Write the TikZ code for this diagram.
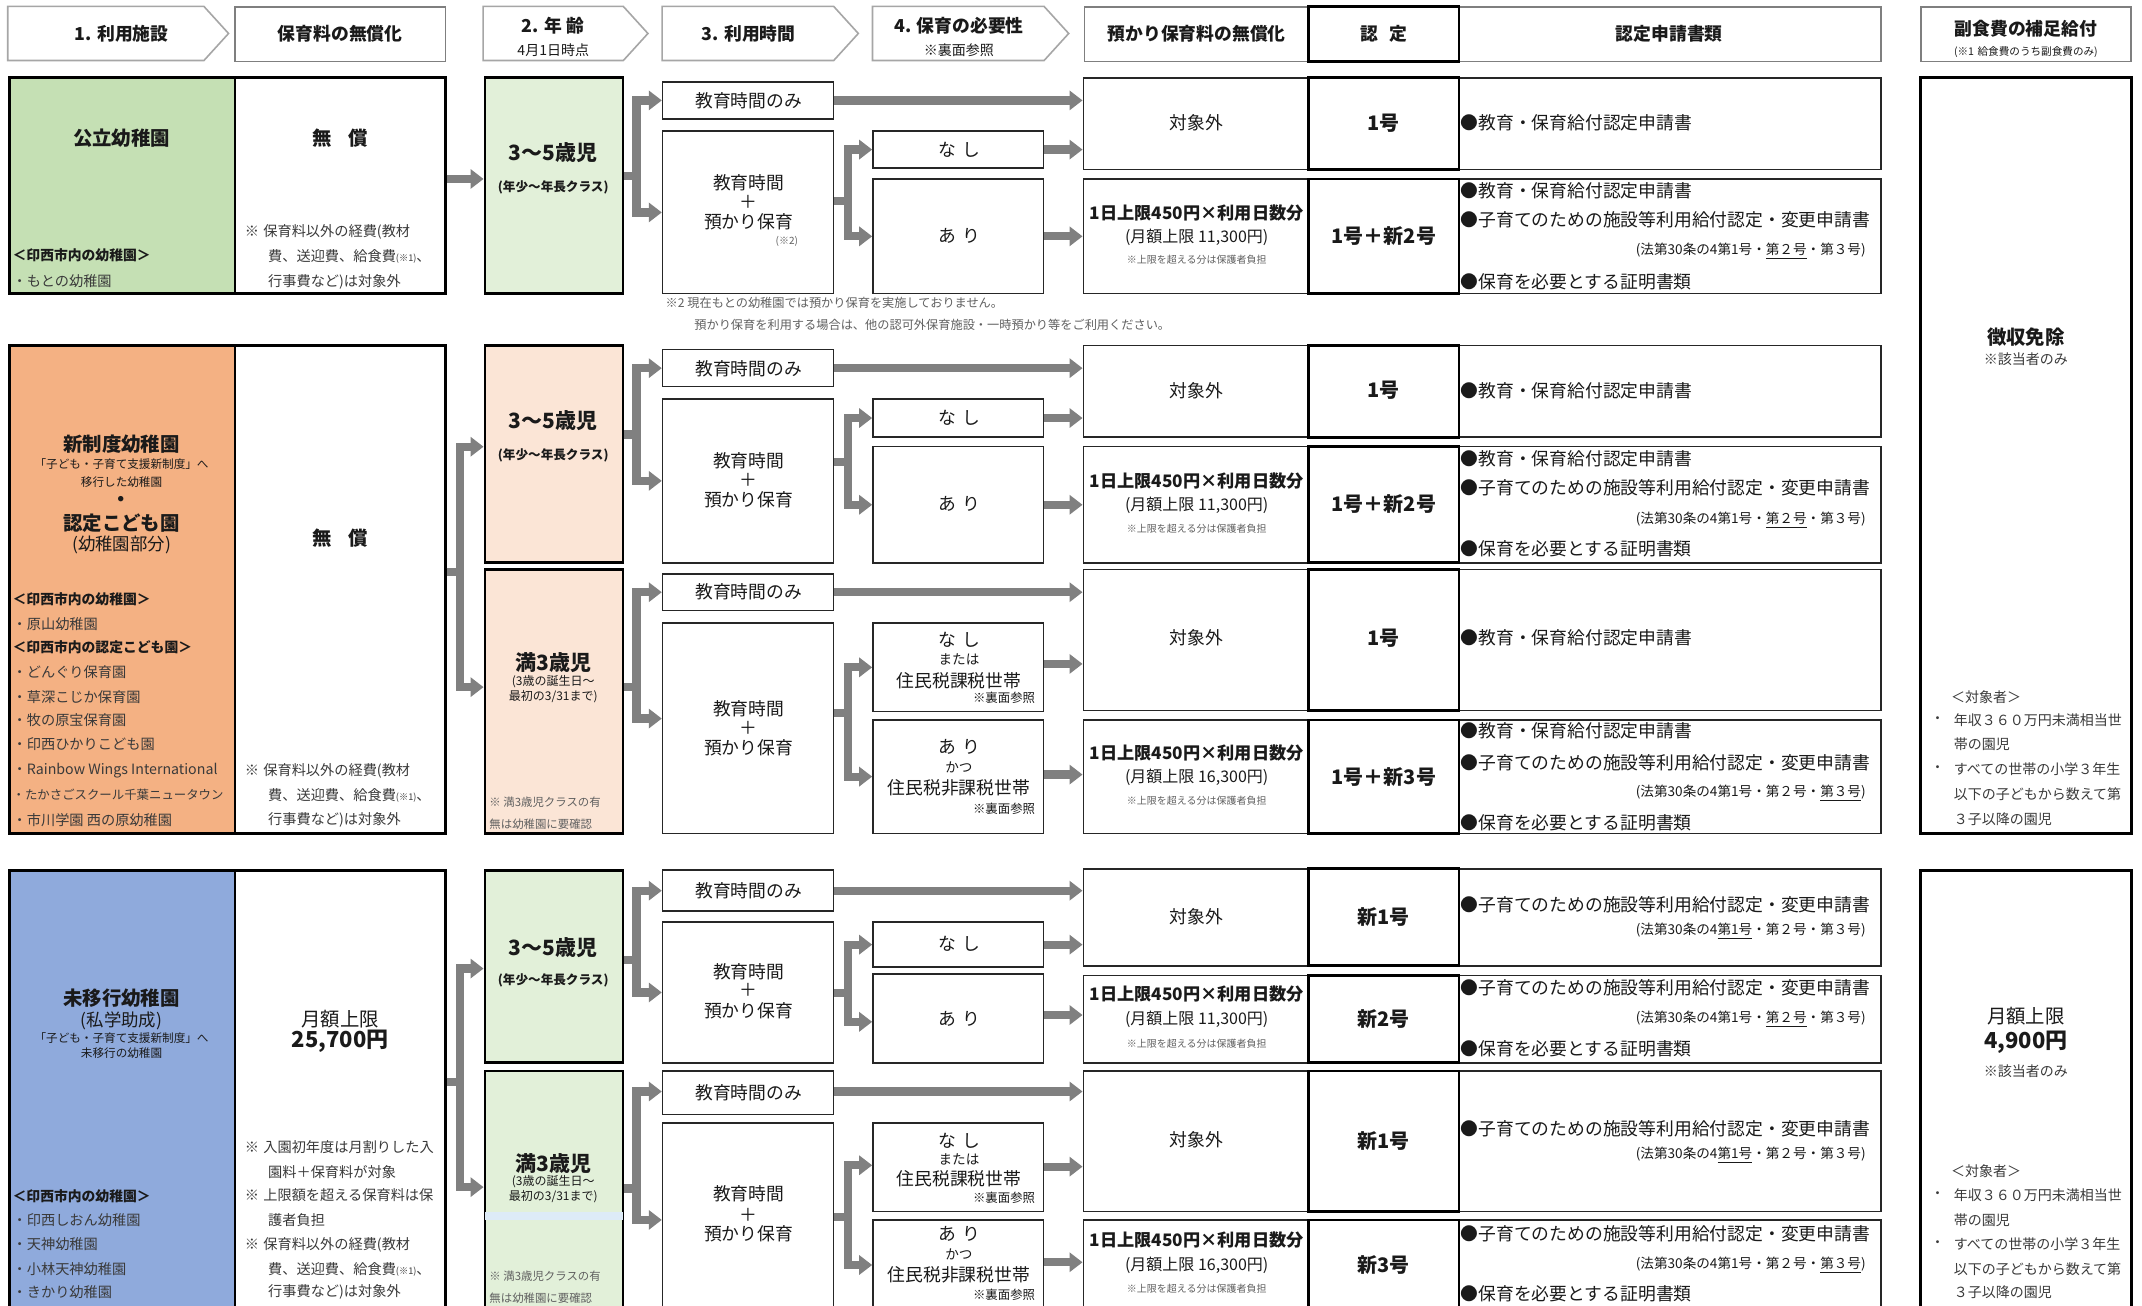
\documentclass[tikz,border=0pt]{standalone}
\usepackage{fontspec}
\setmainfont{Noto Sans CJK JP}
\usetikzlibrary{arrows.meta,fit}
\definecolor{facg}{HTML}{C5E0B4}
\definecolor{faco}{HTML}{F4B183}
\definecolor{facb}{HTML}{8FAADC}
\definecolor{ageg}{HTML}{E2F0D9}
\definecolor{agep}{HTML}{FBE5D6}
\definecolor{strip}{HTML}{DDEBF7}
\definecolor{arrowc}{HTML}{808080}
\definecolor{hdrl}{HTML}{A6A6A6}
\definecolor{hdrd}{HTML}{7F7F7F}
\definecolor{txtc}{HTML}{1A1A1A}
\definecolor{listc}{HTML}{3A3A3A}
\definecolor{notec}{HTML}{606060}
\newcounter{tn}
\newcommand\mt[3]{\stepcounter{tn}\edef\tnm{t\arabic{tn}}\node[#2] (\tnm) at (#1) {#3};}
\newcommand\bx[4]{\node[fit={(#2) (#3)}, inner sep=0pt, #4] (#1) {};}
\newcommand\hp[3]{\node[fit={(#2) (#3)}, inner sep=0pt] (#1) {};
  \draw[draw=hdrl, line width=0.8pt, line join=miter] (#1.north west) -- (#1.north east) -- ([xshift=12.3pt]#1.east) -- (#1.south east) -- (#1.south west) -- cycle;}
\tikzset{
  tx/.style={inner sep=0pt, text=txtc},
  fhead/.style={tx, font=\bfseries\fontsize{8.9}{10}\selectfont},
  fsm/.style={tx, font=\fontsize{7}{8}\selectfont},
  ftn/.style={tx, font=\fontsize{5.3}{6}\selectfont},
  fbig/.style={tx, font=\bfseries\fontsize{9.7}{11}\selectfont},
  fage/.style={tx, font=\bfseries\fontsize{10.5}{12}\selectfont},
  fagesub/.style={tx, font=\bfseries\fontsize{6.3}{7}\selectfont},
  fagesm/.style={tx, font=\fontsize{6}{7}\selectfont},
  fagenote/.style={tx, anchor=west, text=notec, font=\fontsize{5.7}{7}\selectfont},
  fnum/.style={tx, font=\bfseries\fontsize{10}{12}\selectfont},
  fmain/.style={tx, font=\fontsize{8.9}{10}\selectfont},
  fmainb/.style={tx, font=\bfseries\fontsize{8.6}{10}\selectfont},
  fmon/.style={tx, font=\fontsize{8}{9}\selectfont},
  fcap/.style={tx, text=notec, font=\fontsize{5}{6}\selectfont},
  fdoc/.style={tx, anchor=west, font=\fontsize{8.9}{10}\selectfont},
  flaw/.style={tx, anchor=east, font=\fontsize{6.8}{8}\selectfont},
  flist/.style={tx, anchor=west, text=listc, font=\fontsize{7.1}{8}\selectfont},
  flistb/.style={tx, anchor=west, font=\bfseries\fontsize{6.9}{8}\selectfont},
  fnote/.style={tx, anchor=west, text=listc, font=\fontsize{7.1}{8}\selectfont},
  fsub/.style={tx, font=\fontsize{5.8}{7}\selectfont},
  fparen/.style={tx, font=\fontsize{8.7}{10}\selectfont},
  fmid/.style={tx, font=\fontsize{6.8}{8}\selectfont},
  fref/.style={tx, anchor=east, font=\fontsize{6.2}{7}\selectfont},
  fside/.style={tx, anchor=west, text=listc, font=\fontsize{7}{8}\selectfont},
  fsidec/.style={tx, text=listc, font=\fontsize{7}{8}\selectfont},
  fbignum/.style={tx, font=\bfseries\fontsize{11}{12}\selectfont},
  fmidreg/.style={tx, font=\fontsize{9.7}{11}\selectfont},
  f2note/.style={tx, anchor=west, text=notec, font=\fontsize{6.1}{7}\selectfont},
  thick/.style={draw=black, line width=1.4pt},
  thin/.style={draw=black!85, line width=0.75pt},
  conn/.style={draw=arrowc, line width=4.1pt, line join=miter, -{Triangle[length=6.5pt,width=9.5pt]}}
}
\newcommand\law[1]{(法第30条の4#1)}
\begin{document}
\begin{tikzpicture}[x=0.683pt, y=-0.683pt]
\useasboundingbox (0,0) rectangle (1568,956);
\clip (0,0) rectangle (1568,956);
\fill[white] (0,0) rectangle (1568,956);
% ---------- header ----------
\hp{h1}{6,5}{149,44}
\mt{89,24.5}{fhead}{1. 利用施設}
\bx{h2}{172,5}{326,45}{draw=hdrd, line width=0.8pt}
\mt{249,25}{fhead}{保育料の無償化}
\hp{h3}{354,5}{456,44}
\mt{405,18.5}{fhead}{2. 年\hspace{0.25em}齢}
\mt{405,37}{fsm}{4月1日時点}
\hp{h4}{485,5}{610,44}
\mt{548,24.5}{fhead}{3. 利用時間}
\hp{h5}{639,5}{764,44}
\mt{702,18.5}{fhead}{4. 保育の必要性}
\mt{702,37}{fsm}{※裏面参照}
\bx{h6}{794,5}{958,45}{draw=hdrd, line width=0.8pt}
\mt{876,25}{fhead}{預かり保育料の無償化}
\bx{h8}{1068,5}{1377,45}{draw=hdrd, line width=0.8pt}
\bx{h7}{958,5}{1068,45}{thick}
\mt{1013,25}{fhead}{認\hspace{0.6em}定}
\mt{1222,25}{fhead}{認定申請書類}
\bx{h9}{1406,5}{1560,45}{draw=hdrd, line width=0.8pt}
\mt{1483,21}{fhead}{副食費の補足給付}
\mt{1483,38}{ftn}{(※1\,\,給食費のうち副食費のみ)}

% ---------- row 1 ----------
\bx{fac1}{7,57}{172,215}{thick, fill=facg}
\bx{fee1}{172,57}{326,215}{thick}
\bx{A1}{355,57}{456,215}{thick, fill=ageg}
\bx{T1a}{485,60}{610,87}{thin}
\bx{T1b}{485,96}{610,215}{thin}
\bx{N1a}{639,96}{764,123}{thin}
\bx{N1b}{639,131}{764,215}{thin}
\bx{R1a}{793,57}{958,124}{thin}
\bx{D1a}{1068,57}{1377,124}{thin}
\bx{C1a}{958,57}{1068,124}{thick}
\bx{R1b}{793,131}{958,215}{thin}
\bx{D1b}{1068,131}{1377,215}{thin}
\bx{C1b}{958,131}{1068,215}{thick}

\mt{89,101}{fbig}{公立幼稚園}
\mt{9,187}{flistb}{＜印西市内の幼稚園＞}
\mt{9,206}{flist}{・もとの幼稚園}
\mt{249,101}{fbig}{無\hspace{0.9em}償}
\mt{179,170}{fnote}{※\hspace{0.3em}保育料以外の経費(教材}
\mt{196,188}{fnote}{費、送迎費、給食費{\fontsize{4.6}{5}\selectfont(※1)}、}
\mt{196,206}{fnote}{行事費など)は対象外}
\mt{405,112}{fage}{3～5歳児}
\mt{405,137}{fagesub}{(年少～年長クラス)}
\mt{548,74}{fmain}{教育時間のみ}
\mt{548,134}{fmain}{教育時間}
\mt{548,148}{fmain}{＋}
\mt{548,162}{fmain}{預かり保育}
\mt{576,177}{fcap}{(※2)}
\mt{702,110}{fmain}{な\hspace{0.35em}し}
\mt{702,173}{fmain}{あ\hspace{0.35em}り}
\mt{876,90}{fmain}{対象外}
\mt{876,156}{fmainb}{1日上限450円×利用日数分}
\mt{876,174}{fmon}{(月額上限 11,300円)}
\mt{876,190}{fcap}{※上限を超える分は保護者負担}
\mt{1013,90}{fnum}{1号}
\mt{1013,173}{fnum}{1号＋新2号}
\mt{1069,90}{fdoc}{●教育・保育給付認定申請書}
\mt{1069,140}{fdoc}{●教育・保育給付認定申請書}
\mt{1069,161}{fdoc}{●子育てのための施設等利用給付認定・変更申請書}
\mt{1366,184}{flaw}{\law{第1号・\underline{第２号}・第３号}}
\mt{1069,206}{fdoc}{●保育を必要とする証明書類}
\mt{487,222}{f2note}{※2 現在もとの幼稚園では預かり保育を実施しておりません。}
\mt{508,238}{f2note}{預かり保育を利用する場合は、他の認可外保育施設・一時預かり等をご利用ください。}

\draw[conn] (fee1.east |- 0,131) -- (A1.west |- 0,131);
\draw[conn] (A1.east |- 0,129) -- (466,129) |- (T1a.west);
\draw[conn] (A1.east |- 0,129) -- (466,129) |- (T1b.west);
\draw[conn] (T1b.east |- 0,147) -- (621,147) |- (N1a.west);
\draw[conn] (T1b.east |- 0,147) -- (621,147) |- (N1b.west);
\draw[conn] (T1a.east) -- (T1a.east -| R1a.west);
\draw[conn] (N1a.east) -- (N1a.east -| R1a.west);
\draw[conn] (N1b.east) -- (N1b.east -| R1b.west);

% ---------- row 2 ----------
\bx{fac2}{7,253}{172,610}{thick, fill=faco}
\bx{fee2}{172,253}{326,610}{thick}
\bx{A2}{355,253}{456,412}{thick, fill=agep}
\bx{A3}{355,417}{456,610}{thick, fill=agep}
\bx{T2a}{485,256}{610,283}{thin}
\bx{T2b}{485,292}{610,412}{thin}
\bx{N2a}{639,292}{764,320}{thin}
\bx{N2b}{639,327}{764,412}{thin}
\bx{R2a}{793,253}{958,320}{thin}
\bx{D2a}{1068,253}{1377,320}{thin}
\bx{C2a}{958,253}{1068,320}{thick}
\bx{R2b}{793,327}{958,412}{thin}
\bx{D2b}{1068,327}{1377,412}{thin}
\bx{C2b}{958,327}{1068,412}{thick}
\bx{T3a}{485,420}{610,447}{thin}
\bx{T3b}{485,456}{610,610}{thin}
\bx{N3a}{639,456}{764,521}{thin}
\bx{N3b}{639,527}{764,610}{thin}
\bx{R3a}{793,417}{958,520}{thin}
\bx{D3a}{1068,417}{1377,520}{thin}
\bx{C3a}{958,417}{1068,520}{thick}
\bx{R3b}{793,527}{958,610}{thin}
\bx{D3b}{1068,527}{1377,610}{thin}
\bx{C3b}{958,527}{1068,610}{thick}

\mt{89,325}{fbig}{新制度幼稚園}
\mt{89,339.5}{fsub}{「子ども・子育て支援新制度」へ}
\mt{89,353}{fsub}{移行した幼稚園}
\mt{89,367}{fbig}{・}
\mt{89,383}{fbig}{認定こども園}
\mt{89,399}{fparen}{(幼稚園部分)}
\mt{9,439}{flistb}{＜印西市内の幼稚園＞}
\mt{9,457}{flist}{・原山幼稚園}
\mt{9,474}{flistb}{＜印西市内の認定こども園＞}
\mt{9,492}{flist}{・どんぐり保育園}
\mt{9,510}{flist}{・草深こじか保育園}
\mt{9,527}{flist}{・牧の原宝保育園}
\mt{9,545}{flist}{・印西ひかりこども園}
\mt{9,564}{flist}{・Rainbow Wings International}
\mt{9,582}{flist, font=\fontsize{6.2}{7}\selectfont}{・たかさごスクール千葉ニュータウン}
\mt{9,600}{flist}{・市川学園 西の原幼稚園}
\mt{249,394}{fbig}{無\hspace{0.9em}償}
\mt{179,564}{fnote}{※\hspace{0.3em}保育料以外の経費(教材}
\mt{196,582}{fnote}{費、送迎費、給食費{\fontsize{4.6}{5}\selectfont(※1)}、}
\mt{196,600}{fnote}{行事費など)は対象外}
\mt{405,308}{fage}{3～5歳児}
\mt{405,333}{fagesub}{(年少～年長クラス)}
\mt{405,485}{fage}{満3歳児}
\mt{405,499}{fagesm}{(3歳の誕生日～}
\mt{405,510}{fagesm}{最初の3/31まで)}
\mt{358,587}{fagenote}{※ 満3歳児クラスの有}
\mt{358,603}{fagenote}{無は幼稚園に要確認}
\mt{548,270}{fmain}{教育時間のみ}
\mt{548,337}{fmain}{教育時間}
\mt{548,351}{fmain}{＋}
\mt{548,366}{fmain}{預かり保育}
\mt{702,306}{fmain}{な\hspace{0.35em}し}
\mt{702,369}{fmain}{あ\hspace{0.35em}り}
\mt{876,286}{fmain}{対象外}
\mt{876,352}{fmainb}{1日上限450円×利用日数分}
\mt{876,370}{fmon}{(月額上限 11,300円)}
\mt{876,387}{fcap}{※上限を超える分は保護者負担}
\mt{1013,286}{fnum}{1号}
\mt{1013,369}{fnum}{1号＋新2号}
\mt{1069,286}{fdoc}{●教育・保育給付認定申請書}
\mt{1069,336}{fdoc}{●教育・保育給付認定申請書}
\mt{1069,357}{fdoc}{●子育てのための施設等利用給付認定・変更申請書}
\mt{1366,381}{flaw}{\law{第1号・\underline{第２号}・第３号}}
\mt{1069,402}{fdoc}{●保育を必要とする証明書類}
\mt{548,433}{fmain}{教育時間のみ}
\mt{548,519}{fmain}{教育時間}
\mt{548,533}{fmain}{＋}
\mt{548,547}{fmain}{預かり保育}
\mt{702,468}{fmain}{な\hspace{0.35em}し}
\mt{702,483}{fmid}{または}
\mt{702,498}{fmain}{住民税課税世帯}
\mt{758,511}{fref}{※裏面参照}
\mt{702,547}{fmain}{あ\hspace{0.35em}り}
\mt{702,562}{fmid}{かつ}
\mt{702,577}{fmain}{住民税非課税世帯}
\mt{758,592}{fref}{※裏面参照}
\mt{876,467}{fmain}{対象外}
\mt{876,551}{fmainb}{1日上限450円×利用日数分}
\mt{876,569}{fmon}{(月額上限 16,300円)}
\mt{876,586}{fcap}{※上限を超える分は保護者負担}
\mt{1013,467}{fnum}{1号}
\mt{1013,569}{fnum}{1号＋新3号}
\mt{1069,467}{fdoc}{●教育・保育給付認定申請書}
\mt{1069,535}{fdoc}{●教育・保育給付認定申請書}
\mt{1069,558}{fdoc}{●子育てのための施設等利用給付認定・変更申請書}
\mt{1366,581}{flaw}{\law{第1号・第２号・\underline{第３号}}}
\mt{1069,602}{fdoc}{●保育を必要とする証明書類}

\draw[conn] (fee2.east |- 0,419) -- (337,419) -- (337,327) -- (A2.west |- 0,327);
\draw[conn] (fee2.east |- 0,419) -- (337,419) -- (337,503) -- (A3.west |- 0,503);
\draw[conn] (A2.east |- 0,318) -- (466,318) |- (T2a.west);
\draw[conn] (A2.east |- 0,318) -- (466,318) |- (T2b.west);
\draw[conn] (T2b.east |- 0,338) -- (621,338) |- (N2a.west);
\draw[conn] (T2b.east |- 0,338) -- (621,338) |- (N2b.west);
\draw[conn] (T2a.east) -- (T2a.east -| R2a.west);
\draw[conn] (N2a.east) -- (N2a.east -| R2a.west);
\draw[conn] (N2b.east) -- (N2b.east -| R2b.west);
\draw[conn] (A3.east |- 0,503) -- (466,503) |- (T3a.west);
\draw[conn] (A3.east |- 0,503) -- (466,503) -- (466,526) -- (T3b.west |- 0,526);
\draw[conn] (T3b.east |- 0,522) -- (621,522) |- (N3a.west);
\draw[conn] (T3b.east |- 0,522) -- (621,522) |- (N3b.west);
\draw[conn] (T3a.east) -- (T3a.east -| R3a.west);
\draw[conn] (N3a.east |- 0,486) -- (R3a.west |- 0,486);
\draw[conn] (N3b.east |- 0,567) -- (R3b.west |- 0,567);

% ---------- row 3 ----------
\bx{fac3}{7,637}{172,990}{thick, fill=facb}
\bx{fee3}{172,637}{326,990}{thick}
\bx{A4}{355,637}{456,778}{thick, fill=ageg}
\bx{A5}{355,784}{456,990}{thick, fill=ageg}
\fill[strip] ([xshift=0.7pt]A5.west |- 0,887) rectangle ([xshift=-0.7pt]A5.east |- 0,893);
\bx{T4a}{485,637}{610,667}{thin}
\bx{T4b}{485,675}{610,778}{thin}
\bx{N4a}{639,675}{764,708}{thin}
\bx{N4b}{639,713}{764,778}{thin}
\bx{R4a}{793,636}{958,707}{thin}
\bx{D4a}{1068,636}{1377,707}{thin}
\bx{C4a}{958,636}{1068,707}{thick}
\bx{R4b}{793,714}{958,778}{thin}
\bx{D4b}{1068,714}{1377,778}{thin}
\bx{C4b}{958,714}{1068,778}{thick}
\bx{T5a}{485,784}{610,816}{thin}
\bx{T5b}{485,822}{610,990}{thin}
\bx{N5a}{639,822}{764,887}{thin}
\bx{N5b}{639,893}{764,990}{thin}
\bx{R5a}{793,784}{958,887}{thin}
\bx{D5a}{1068,784}{1377,887}{thin}
\bx{C5a}{958,784}{1068,887}{thick}
\bx{R5b}{793,893}{958,990}{thin}
\bx{D5b}{1068,893}{1377,990}{thin}
\bx{C5b}{958,893}{1068,990}{thick}

\mt{89,731}{fbig}{未移行幼稚園}
\mt{89,747}{fparen}{(私学助成)}
\mt{89,760}{fsub}{「子ども・子育て支援新制度」へ}
\mt{89,771}{fsub}{未移行の幼稚園}
\mt{9,876}{flistb}{＜印西市内の幼稚園＞}
\mt{9,893}{flist}{・印西しおん幼稚園}
\mt{9,911}{flist}{・天神幼稚園}
\mt{9,929}{flist}{・小林天神幼稚園}
\mt{9,946}{flist}{・きかり幼稚園}
\mt{249,746}{fmidreg}{月額上限}
\mt{249,762}{fbignum}{25,700円}
\mt{179,840}{fnote}{※\hspace{0.3em}入園初年度は月割りした入}
\mt{196,858}{fnote}{園料＋保育料が対象}
\mt{179,875}{fnote}{※\hspace{0.3em}上限額を超える保育料は保}
\mt{196,893}{fnote}{護者負担}
\mt{179,911}{fnote}{※\hspace{0.3em}保育料以外の経費(教材}
\mt{196,929}{fnote}{費、送迎費、給食費{\fontsize{4.6}{5}\selectfont(※1)}、}
\mt{196,946}{fnote}{行事費など)は対象外}
\mt{405,694}{fage}{3～5歳児}
\mt{405,718}{fagesub}{(年少～年長クラス)}
\mt{405,852}{fage}{満3歳児}
\mt{405,865}{fagesm}{(3歳の誕生日～}
\mt{405,876}{fagesm}{最初の3/31まで)}
\mt{358,934}{fagenote}{※ 満3歳児クラスの有}
\mt{358,950}{fagenote}{無は幼稚園に要確認}
\mt{548,652}{fmain}{教育時間のみ}
\mt{548,711}{fmain}{教育時間}
\mt{548,725}{fmain}{＋}
\mt{548,740}{fmain}{預かり保育}
\mt{702,691}{fmain}{な\hspace{0.35em}し}
\mt{702,746}{fmain}{あ\hspace{0.35em}り}
\mt{876,671}{fmain}{対象外}
\mt{876,728}{fmainb}{1日上限450円×利用日数分}
\mt{876,746}{fmon}{(月額上限 11,300円)}
\mt{876,764}{fcap}{※上限を超える分は保護者負担}
\mt{1013,671}{fnum}{新1号}
\mt{1013,746}{fnum}{新2号}
\mt{1069,662}{fdoc}{●子育てのための施設等利用給付認定・変更申請書}
\mt{1366,682}{flaw}{\law{\underline{第1号}・第２号・第３号}}
\mt{1069,723}{fdoc}{●子育てのための施設等利用給付認定・変更申請書}
\mt{1366,746}{flaw}{\law{第1号・\underline{第２号}・第３号}}
\mt{1069,768}{fdoc}{●保育を必要とする証明書類}
\mt{548,800}{fmain}{教育時間のみ}
\mt{548,874}{fmain}{教育時間}
\mt{548,889}{fmain}{＋}
\mt{548,903}{fmain}{預かり保育}
\mt{702,835}{fmain}{な\hspace{0.35em}し}
\mt{702,849}{fmid}{または}
\mt{702,863}{fmain}{住民税課税世帯}
\mt{758,877}{fref}{※裏面参照}
\mt{702,903}{fmain}{あ\hspace{0.35em}り}
\mt{702,918}{fmid}{かつ}
\mt{702,933}{fmain}{住民税非課税世帯}
\mt{758,948}{fref}{※裏面参照}
\mt{876,834}{fmain}{対象外}
\mt{876,908}{fmainb}{1日上限450円×利用日数分}
\mt{876,926}{fmon}{(月額上限 16,300円)}
\mt{876,943}{fcap}{※上限を超える分は保護者負担}
\mt{1013,835}{fnum}{新1号}
\mt{1013,926}{fnum}{新3号}
\mt{1069,826}{fdoc}{●子育てのための施設等利用給付認定・変更申請書}
\mt{1366,846}{flaw}{\law{\underline{第1号}・第２号・第３号}}
\mt{1069,903}{fdoc}{●子育てのための施設等利用給付認定・変更申請書}
\mt{1366,926}{flaw}{\law{第1号・第２号・\underline{第３号}}}
\mt{1069,947}{fdoc}{●保育を必要とする証明書類}

\draw[conn] (fee3.east |- 0,792) -- (337,792) -- (337,709) -- (A4.west |- 0,709);
\draw[conn] (fee3.east |- 0,792) -- (337,792) -- (337,869) -- (A5.west |- 0,869);
\draw[conn] (A4.east |- 0,703) -- (466,703) -- (466,652) -- (T4a.west |- 0,652);
\draw[conn] (A4.east |- 0,703) -- (466,703) |- (T4b.west);
\draw[conn] (T4b.east |- 0,727) -- (621,727) |- (N4a.west);
\draw[conn] (T4b.east |- 0,727) -- (621,727) -- (621,748) -- (N4b.west |- 0,748);
\draw[conn] (T4a.east |- 0,652) -- (R4a.west |- 0,652);
\draw[conn] (N4a.east) -- (N4a.east -| R4a.west);
\draw[conn] (N4b.east |- 0,743) -- (R4b.west |- 0,743);
\draw[conn] (A5.east |- 0,870) -- (466,870) -- (466,799) -- (T5a.west |- 0,799);
\draw[conn] (A5.east |- 0,870) -- (466,870) -- (466,893) -- (T5b.west |- 0,893);
\draw[conn] (T5b.east |- 0,891) -- (621,891) -- (621,853) -- (N5a.west |- 0,853);
\draw[conn] (T5b.east |- 0,891) -- (621,891) -- (621,926) -- (N5b.west |- 0,926);
\draw[conn] (T5a.east |- 0,799) -- (R5a.west |- 0,799);
\draw[conn] (N5a.east |- 0,854) -- (R5a.west |- 0,854);
\draw[conn] (N5b.east |- 0,924) -- (R5b.west |- 0,924);

% ---------- side column ----------
\bx{S1}{1406,57}{1560,610}{thick}
\bx{S2}{1406,637}{1560,990}{thick}
\mt{1483,247}{fbig}{徴収免除}
\mt{1483,263}{fsidec}{※該当者のみ}
\mt{1428,510}{fside}{＜対象者＞}
\mt{1413,527}{fside}{・}
\mt{1430,527}{fside}{年収３６０万円未満相当世}
\mt{1430,545}{fside}{帯の園児}
\mt{1413,563}{fside}{・}
\mt{1430,563}{fside}{すべての世帯の小学３年生}
\mt{1430,581}{fside}{以下の子どもから数えて第}
\mt{1430,600}{fside}{３子以降の園児}
\mt{1483,744}{fmidreg}{月額上限}
\mt{1483,763}{fbignum}{4,900円}
\mt{1483,784}{fsidec}{※該当者のみ}
\mt{1428,857}{fside}{＜対象者＞}
\mt{1413,875}{fside}{・}
\mt{1430,875}{fside}{年収３６０万円未満相当世}
\mt{1430,893}{fside}{帯の園児}
\mt{1413,911}{fside}{・}
\mt{1430,911}{fside}{すべての世帯の小学３年生}
\mt{1430,929}{fside}{以下の子どもから数えて第}
\mt{1430,946}{fside}{３子以降の園児}
\end{tikzpicture}
\end{document}
